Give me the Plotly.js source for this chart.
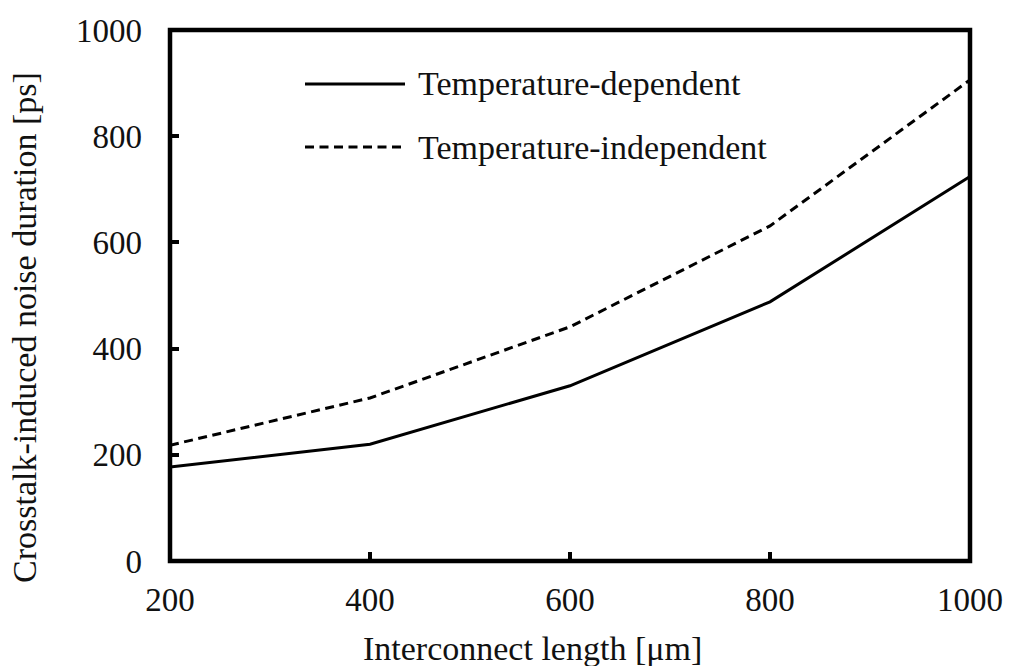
<!DOCTYPE html>
<html>
<head>
<meta charset="utf-8">
<script src="https://cdn.plot.ly/plotly-3.0.1.min.js"></script>
<style>html,body{margin:0;padding:0;background:#fff;}#chart{width:1011px;height:666px;}</style>
</head>
<body>
<div id="chart"></div>
<script>
const lengths = [200, 400, 600, 800, 1000];
const tempDependent = [177, 220, 330, 488, 724];
const tempIndependent = [218, 307, 441, 631, 906];
const xTicks = [200, 400, 600, 800, 1000];
const yTicks = [0, 200, 400, 600, 800, 1000];
const seriesNames = ["Temperature-dependent", "Temperature-independent"];
const xTitle = "Interconnect length [μm]";
const yTitle = "Crosstalk-induced noise duration [ps]";

const FONT = "'Liberation Serif', 'Times New Roman', serif";
const W = 1011, H = 666;
const M = {l: 170, r: 41, t: 30, b: 105};
const PW = W - M.l - M.r, PH = H - M.t - M.b;
const px = x => (x - M.l) / PW;
const py = y => (H - M.b - y) / PH;

const traces = [
  {x: lengths, y: tempDependent, name: seriesNames[0], type: 'scatter', mode: 'lines',
   line: {color: '#000', width: 3}},
  {x: lengths, y: tempIndependent, name: seriesNames[1], type: 'scatter', mode: 'lines',
   line: {color: '#000', width: 3, dash: '9px,5.5px'}}
];

const layout = {
  width: W, height: H,
  margin: M,
  paper_bgcolor: '#fff', plot_bgcolor: '#fff',
  showlegend: false,
  font: {family: FONT, color: '#111', size: 33},
  xaxis: {
    range: [200, 1000], tickvals: xTicks, ticktext: xTicks.map(String),
    showgrid: false, zeroline: false, showline: false,
    ticks: 'inside', ticklen: 9, tickwidth: 4, tickcolor: '#000',
    ticklabelstandoff: 16,
    tickfont: {family: FONT, size: 33, color: '#111'}
  },
  yaxis: {
    range: [0, 1000], tickvals: yTicks, ticktext: yTicks.map(String),
    showgrid: false, zeroline: false, showline: false,
    ticks: 'inside', ticklen: 9, tickwidth: 4, tickcolor: '#000',
    ticklabelstandoff: 27,
    tickfont: {family: FONT, size: 33, color: '#111'}
  },
  shapes: [
    {type: 'rect', xref: 'paper', yref: 'paper', x0: 0, x1: 1, y0: 0, y1: 1,
     line: {color: '#000', width: 4.5}, layer: 'above'},
    {type: 'line', xref: 'paper', yref: 'paper', x0: px(305), x1: px(405), y0: py(84), y1: py(84),
     line: {color: '#000', width: 3}},
    {type: 'line', xref: 'paper', yref: 'paper', x0: px(305), x1: px(405), y0: py(147), y1: py(147),
     line: {color: '#000', width: 3, dash: '9px,5.5px'}}
  ],
  annotations: [
    {xref: 'paper', yref: 'paper', x: px(416), y: py(84), xanchor: 'left', yanchor: 'middle',
     text: seriesNames[0], showarrow: false, font: {family: FONT, size: 34, color: '#111'}},
    {xref: 'paper', yref: 'paper', x: px(416), y: py(147), xanchor: 'left', yanchor: 'middle',
     text: seriesNames[1], showarrow: false, font: {family: FONT, size: 34, color: '#111'}},
    {xref: 'paper', yref: 'paper', x: px(532), y: py(648), xanchor: 'center', yanchor: 'middle',
     text: xTitle, showarrow: false, font: {family: FONT, size: 34, color: '#111'}},
    {xref: 'paper', yref: 'paper', x: px(24), y: py(328), xanchor: 'center', yanchor: 'middle',
     text: yTitle, textangle: -90, showarrow: false, font: {family: FONT, size: 34, color: '#111'}}
  ]
};

Plotly.newPlot('chart', traces, layout, {staticPlot: true, displayModeBar: false});
</script>
</body>
</html>
